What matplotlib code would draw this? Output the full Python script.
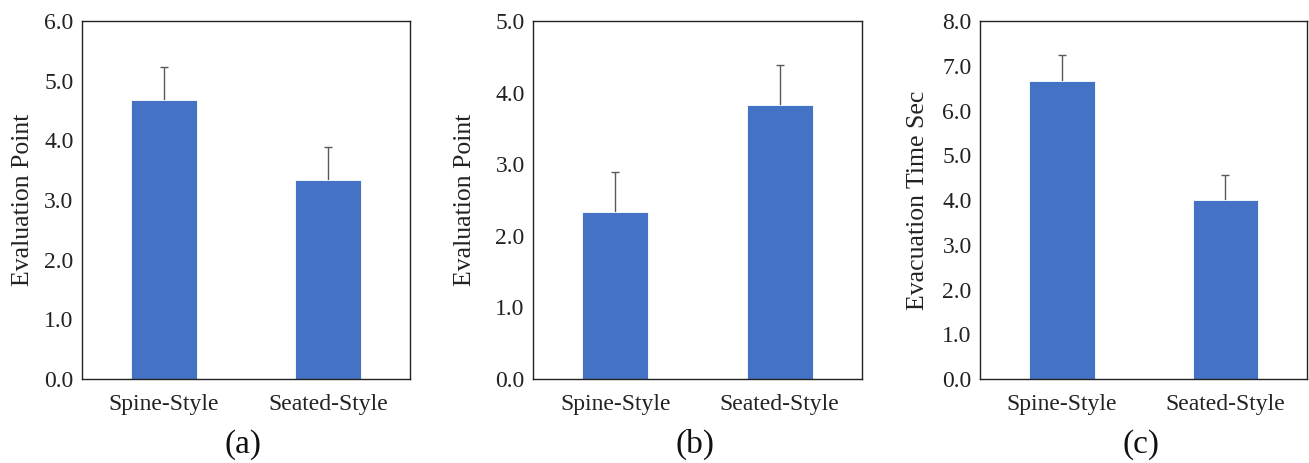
import numpy as np
import matplotlib.pyplot as plt

### Data ###
categories = ['Spine-Style', 'Seated-Style']
score_a = [4.67, 3.33]
err_a = [0.56, 0.56]
score_b = [2.33, 3.83]
err_b = [0.56, 0.56]
time_c = [6.67, 4.00]
err_c = [0.56, 0.55]

panels = [
    (score_a, err_a, 'Evaluation Point', 6.0, '(a)'),
    (score_b, err_b, 'Evaluation Point', 5.0, '(b)'),
    (time_c, err_c, 'Evacuation Time Sec', 8.0, '(c)'),
]

plt.rcParams['font.family'] = ['Liberation Serif', 'DejaVu Serif']

fig = plt.figure(figsize=(13.09, 4.63), dpi=100)

lefts = [0.0626, 0.4072, 0.7487]
widths = [0.2506, 0.2513, 0.2500]
label_x = [-0.145, -0.173, -0.156]

for i, (vals, errs, ylab, ymax, cap) in enumerate(panels):
    ax = fig.add_axes([lefts[i], 0.1814, widths[i], 0.7732])
    x = np.arange(len(categories))
    # error bars behind the bars so only the upper half shows
    ax.errorbar(x, vals, yerr=errs, fmt='none', ecolor='#595959',
                elinewidth=1.0, capsize=3.0, capthick=1.0, zorder=1)
    ax.bar(x, vals, width=0.4, color='#4472C4', edgecolor='white',
           linewidth=0.6, zorder=2)
    ax.set_xlim(-0.5, 1.5)
    ax.set_ylim(0, ymax)
    ticks = np.arange(0, ymax + 0.01, 1.0)
    ax.set_yticks(ticks)
    ax.set_yticklabels([f'{t:.1f}' for t in ticks])
    ax.set_xticks(x)
    ax.set_xticklabels(categories)
    ax.tick_params(axis='both', length=0, labelsize=17, colors='#222222')
    ax.tick_params(axis='x', pad=11)
    ax.tick_params(axis='y', pad=6)
    for s in ax.spines.values():
        s.set_linewidth(1.0)
        s.set_color('#222222')
    ax.set_ylabel(ylab, fontsize=18.5, color='#222222')
    ax.yaxis.set_label_coords(label_x[i], 0.5)
    fig.text(lefts[i] + widths[i] / 2 - 0.002, 0.04, cap, ha='center', va='center',
             fontsize=24, color='#111111')

fig.savefig('out.png', dpi=100)
